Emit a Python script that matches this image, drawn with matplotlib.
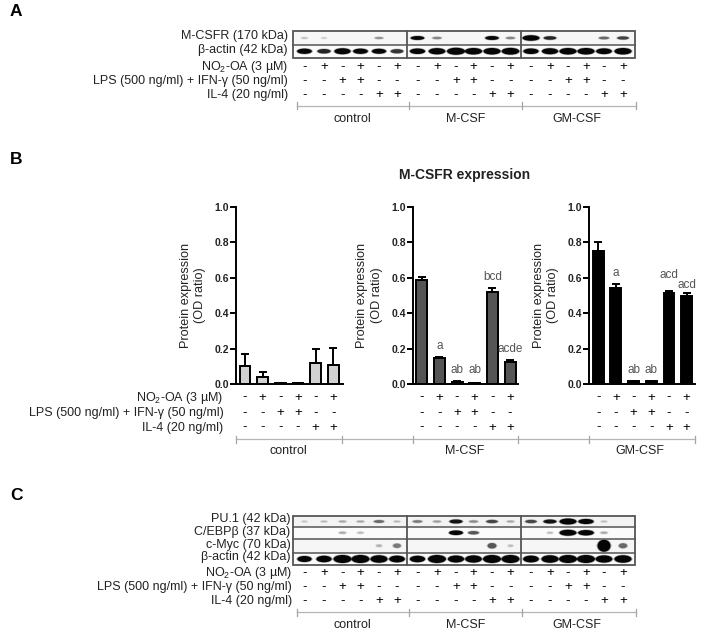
import matplotlib
matplotlib.use('Agg')
import matplotlib.pyplot as plt
from matplotlib.patches import Ellipse, Rectangle

plt.rcParams['font.family'] = ['Liberation Sans', 'DejaVu Sans']
plt.rcParams['mathtext.default'] = 'regular'

W, H = 704, 641

groups = ['control', 'M-CSF', 'GM-CSF']
no2_signs = ['-', '+', '-', '+', '-', '+']
lps_signs = ['-', '-', '+', '+', '-', '-']
il4_signs = ['-', '-', '-', '-', '+', '+']
row_names = ['NO$_2$-OA (3 µM)', 'LPS (500 ng/ml) + IFN-γ (50 ng/ml)', 'IL-4 (20 ng/ml)']

# bar values
control_vals = [0.10, 0.04, 0.005, 0.005, 0.12, 0.11]
control_err = [0.07, 0.03, 0.001, 0.001, 0.08, 0.095]
mcsf_vals = [0.585, 0.148, 0.012, 0.007, 0.52, 0.125]
mcsf_err = [0.02, 0.004, 0.003, 0.001, 0.02, 0.012]
gmcsf_vals = [0.75, 0.545, 0.015, 0.015, 0.515, 0.495]
gmcsf_err = [0.05, 0.02, 0.003, 0.003, 0.012, 0.017]

mcsf_letters = ['', 'a', 'ab', 'ab', 'bcd', 'acde']
mcsf_letter_y = [0, 0.212, 0.081, 0.081, 0.603, 0.197]
gmcsf_letters = ['', 'a', 'ab', 'ab', 'acd', 'acd']
gmcsf_letter_y = [0, 0.626, 0.081, 0.081, 0.617, 0.56]

# band strength per lane, 0 = nothing visible
mcsfr_bands = [0.06, 0.02, 0, 0, 0.18, 0,
               0.6, 0.22, 0, 0, 0.6, 0.22,
               1.0, 0.5, 0, 0, 0.3, 0.42]
actin_a_bands = [0.65, 0.5, 0.8, 0.65, 0.6, 0.45,
                 0.7, 0.85, 1.0, 0.9, 0.9, 0.95,
                 0.7, 0.8, 0.9, 0.9, 0.75, 0.9]
pu1_bands = [0.04, 0.07, 0.12, 0.12, 0.3, 0.07,
             0.25, 0.15, 0.55, 0.2, 0.4, 0.12,
             0.4, 0.55, 1.0, 0.8, 0.06, 0]
cebp_bands = [0, 0, 0.1, 0.06, 0, 0,
              0, 0, 0.65, 0.35, 0, 0,
              0, 0.05, 1.0, 0.85, 0.1, 0]
cmyc_bands = [0, 0, 0, 0, 0.08, 0.25,
              0, 0, 0, 0, 0.35, 0.05,
              0, 0, 0, 0, 1.0, 0.3]
actin_c_bands = [0.6, 0.7, 1.0, 1.0, 0.9, 0.75,
                 0.7, 1.0, 0.8, 0.85, 1.0, 1.0,
                 0.75, 0.9, 1.0, 1.0, 0.85, 0.9]

lanes_x = [304.5, 324, 342.5, 360.5, 379, 397,
           417.5, 437, 456, 473.5, 492, 510.5,
           531, 550, 568, 586, 604, 623]

fig = plt.figure(figsize=(W / 100, H / 100), dpi=100)
page = fig.add_axes([0, 0, 1, 1])
page.set_xlim(0, W)
page.set_ylim(H, 0)
page.axis('off')


def label(x, y, s, **kw):
    kw.setdefault('fontsize', 9)
    kw.setdefault('color', '#222222')
    kw.setdefault('va', 'center')
    page.text(x, y, s, **kw)


def draw_row(top, bottom, bands, max_w=17, max_h=7, min_h=2.0, bg='#f6f6f6'):
    page.add_patch(Rectangle((293, top), 342, bottom - top, fc=bg, ec='none', zorder=1))
    mid = (top + bottom) / 2
    for x, s in zip(lanes_x, bands):
        if s <= 0:
            continue
        w = 4 + (max_w - 4) * s ** 0.6
        h = min_h + (max_h - min_h) * s
        shade = str(round(0.82 - 0.8 * min(s * 1.7, 1), 2))
        page.add_patch(Ellipse((x, mid), w + 2, h + 1.2, fc=shade, ec='none', alpha=0.3, zorder=2))
        page.add_patch(Ellipse((x, mid), w, h, fc=shade, ec='none', zorder=3))


def draw_frame(top, bottom, dividers):
    frame = '#555555'
    page.add_patch(Rectangle((293, top), 342, bottom - top, fc='none', ec=frame, lw=1.3, zorder=5))
    for y in dividers:
        page.plot([293, 635], [y, y], color=frame, lw=1.1, zorder=5)
    for x in (406.7, 520.7):
        page.plot([x, x], [top, bottom], color=frame, lw=1.3, zorder=5)


def draw_signs(xs, ys, right):
    for y, name, signs in zip(ys, row_names, (no2_signs, lps_signs, il4_signs)):
        label(right, y, name, ha='right')
        for i, x in enumerate(xs):
            label(x, y, signs[i % 6], ha='center', fontsize=9.5, color='black')


def draw_bracket(y, ticks, label_xs, label_y):
    page.plot([ticks[0], ticks[-1]], [y, y], color='#b5b5b5', lw=0.9)
    for x in ticks:
        page.plot([x, x], [y - 3.5, y + 3.5], color='#a5a5a5', lw=0.9)
    for x, name in zip(label_xs, groups):
        label(x, label_y, name, ha='center')


# panel A
label(10, 11, 'A', fontsize=12.5, fontweight='bold', color='black')
draw_row(31, 45, mcsfr_bands, max_w=17, max_h=5.5, min_h=1.5)
draw_row(45, 57.5, actin_a_bands, max_w=18, max_h=7, min_h=2, bg='#fbfbfb')
draw_frame(31, 57.5, [45])
label(288, 36.5, 'M-CSFR (170 kDa)', ha='right')
label(288, 50, 'β-actin (42 kDa)', ha='right')
draw_signs(lanes_x, [67, 81, 95], 288)
draw_bracket(105.5, [296.5, 408.5, 522, 635.5], [352, 466, 577], 119)

# panel C
label(10, 495, 'C', fontsize=12.5, fontweight='bold', color='black')
draw_row(516, 527, pu1_bands, max_w=17, max_h=6, min_h=1.5, bg='#f3f3f3')
draw_row(527, 538.5, cebp_bands, max_w=17, max_h=6, min_h=2, bg='#fbfbfb')
draw_row(538.5, 553, cmyc_bands, max_w=13, max_h=12, min_h=2)
draw_row(553, 565, actin_c_bands, max_w=18, max_h=8, min_h=3, bg='#fbfbfb')
draw_frame(516, 565, [527, 538.5, 553])
label(290.5, 519, 'PU.1 (42 kDa)', ha='right')
label(290.5, 532, 'C/EBPβ (37 kDa)', ha='right')
label(290.5, 545, 'c-Myc (70 kDa)', ha='right')
label(290.5, 557, 'β-actin (42 kDa)', ha='right')
draw_signs(lanes_x, [573, 587, 601], 292)
draw_bracket(612, [296.5, 408.5, 522, 635.5], [352, 466, 577], 625.5)

# panel B
label(10, 159, 'B', fontsize=12.5, fontweight='bold', color='black')
label(465, 175.5, 'M-CSFR expression', ha='center', fontsize=10, fontweight='bold')


def bar_panel(x0, x1, first, vals, err, colour, letters=None, letter_y=None):
    step = 17.67
    ax = fig.add_axes([x0 / W, 1 - 384 / H, (x1 - x0) / W, (384 - 207) / H])
    ax.patch.set_alpha(0)
    pos = list(range(6))
    ax.bar(pos, vals, width=0.62, color=colour, edgecolor='black', linewidth=1.4,
           yerr=[[0] * 6, err], error_kw={'ecolor': 'black', 'elinewidth': 1.4, 'capsize': 3, 'capthick': 1.4})
    ax.set_xlim((x0 - first) / step, (x1 - first) / step)
    ax.set_ylim(0, 1)
    ax.set_yticks([0, 0.2, 0.4, 0.6, 0.8, 1.0])
    ax.set_xticks([])
    ax.tick_params(axis='y', length=4, width=1.4, pad=1, labelsize=7.5)
    for t in ax.get_yticklabels():
        t.set_fontweight('bold')
        t.set_color('#222222')
    for side in ('top', 'right'):
        ax.spines[side].set_visible(False)
    ax.spines['left'].set_linewidth(1.4)
    ax.spines['bottom'].set_linewidth(1.4)
    ax.text(x0 - 43, 295.5, 'Protein expression\n(OD ratio)', rotation=90, ha='center', va='center',
            fontsize=9.1, color='#222222', linespacing=1.3, transform=page.transData)
    if letters:
        for i, (s, y) in enumerate(zip(letters, letter_y)):
            ax.text(i, y, s, ha='center', va='center', fontsize=8.5, color='#555555')


bar_panel(236, 343, 245, control_vals, control_err, '#d2d2d2')
bar_panel(412.7, 518, 421.7, mcsf_vals, mcsf_err, '#555555', mcsf_letters, mcsf_letter_y)
bar_panel(589, 695, 598.3, gmcsf_vals, gmcsf_err, 'black', gmcsf_letters, gmcsf_letter_y)

signs_x = [f + i * 17.67 for f in (245, 421.7, 598.3) for i in range(6)]
draw_signs(signs_x, [397.5, 413, 427.5], 223.5)
draw_bracket(439, [236, 342, 412.7, 518, 589, 695], [], 451)
for x, name in zip([288, 465, 640], groups):
    label(x, 451, name, ha='center')

fig.savefig('out.png', dpi=100)
